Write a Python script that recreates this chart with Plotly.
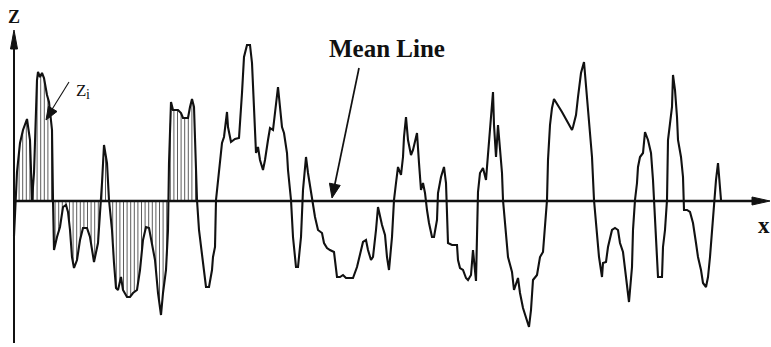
import numpy as np
import plotly.graph_objects as go

# Surface roughness profile: position along the trace and height above the mean line
pos = [14, 15, 17, 20, 23, 27, 30, 32, 34, 37, 38, 40, 42, 44, 47, 49, 52, 53, 54, 57,
       60, 63, 66, 68, 70, 72, 74, 77, 80, 83, 87, 90, 94, 98, 100, 102, 104, 107, 109, 112,
       114, 116, 118, 121, 123, 127, 130, 133, 137, 140, 143, 146, 149, 152, 155, 158, 161, 163, 166, 168,
       169, 171, 173, 178, 181, 183, 188, 190, 192, 194, 196, 197, 199, 202, 204, 206, 209, 212, 213, 215,
       216, 218, 222, 224, 227, 228, 231, 235, 239, 242, 244, 247, 250, 252, 254, 256, 258, 260, 263, 265,
       268, 270, 273, 275, 278, 280, 282, 284, 287, 288, 291, 293, 296, 298, 301, 303, 306, 308, 312, 315,
       318, 322, 324, 327, 330, 334, 337, 340, 343, 346, 350, 353, 357, 360, 363, 366, 368, 371, 373, 376,
       378, 382, 385, 387, 389, 392, 394, 396, 398, 401, 403, 404, 406, 408, 411, 413, 416, 417, 419, 421,
       423, 425, 427, 429, 432, 434, 437, 438, 441, 444, 446, 447, 448, 452, 457, 458, 460, 463, 466, 468,
       471, 473, 474, 476, 478, 480, 483, 486, 487, 489, 492, 493, 494, 496, 498, 500, 502, 503, 506, 508,
       512, 514, 518, 520, 523, 527, 529, 531, 533, 537, 540, 543, 545, 547, 548, 550, 552, 554, 562, 572,
       573, 576, 578, 581, 584, 587, 589, 592, 594, 597, 599, 602, 603, 606, 608, 612, 615, 618, 620, 623,
       625, 627, 629, 632, 633, 635, 637, 638, 640, 643, 645, 648, 651, 653, 654, 656, 658, 662, 663, 665,
       667, 668, 670, 672, 673, 675, 677, 678, 681, 683, 684, 687, 690, 693, 696, 698, 701, 703, 706, 708,
       710, 712, 714, 716, 718, 720, 721]
height = [-35, -14, 29, 58, 71, 82, 61, 1, 28, 121, 129, 124, 128, 123, 106, 99, 71, 1, -49, -36,
          -26, -6, -4, -11, -29, -56, -67, -59, -39, -27, -27, -36, -61, -42, -16, 18, 56, 38, 1, -29,
          -62, -87, -89, -76, -89, -96, -96, -92, -89, -69, -39, -26, -27, -42, -59, -92, -114, -92, -69, -29,
          38, 99, 91, 91, 88, 83, 83, 94, 102, 94, 44, 1, -29, -56, -69, -86, -86, -69, -56, -46,
          1, 21, 58, 64, 89, 74, 59, 62, 63, 108, 144, 156, 156, 138, 91, 48, 54, 41, 31, 41,
          61, 73, 71, 91, 114, 94, 74, 68, 48, 31, 1, -36, -66, -66, -36, 11, 44, 28, 1, -16,
          -29, -32, -42, -47, -49, -51, -76, -76, -74, -77, -77, -77, -66, -52, -41, -39, -49, -59, -56, -29,
          -6, -24, -34, -56, -69, -36, 1, 18, 34, 26, 44, 64, 84, 61, 46, 51, 64, 68, 38, 11,
          18, 8, -9, -22, -36, -36, -19, 8, 24, 34, 18, -16, -42, -44, -44, -59, -67, -69, -77, -79,
          -74, -49, -59, -80, 9, 28, 33, 21, 34, 61, 96, 109, 76, 44, 76, 51, 28, 1, -29, -56,
          -71, -89, -77, -92, -107, -121, -126, -109, -79, -74, -56, -51, -29, 1, 41, 76, 93, 102, 89, 71,
          74, 86, 104, 128, 139, 104, 78, 44, 1, -29, -56, -76, -62, -61, -46, -29, -27, -29, -42, -51,
          -69, -89, -101, -66, -29, 1, 18, 34, 44, 48, 69, 61, 48, 21, 1, -36, -76, -76, -46, -29,
          1, 61, 78, 94, 126, 111, 84, 61, 44, 24, -9, -9, -11, -22, -42, -56, -69, -82, -86, -76,
          -56, -32, 1, 21, 38, 18, 1]

# Extent of the shaded (hatched) stretch and spacing of its ordinates
hatch_start, hatch_end, hatch_step = 15.5, 196.5, 3.6

W, H = 771, 347
X0, Y_TOP, Y_BOT = 0, 201, -146   # one data unit per screen pixel
AXIS_X = 14
SERIF = "Liberation Serif, Times New Roman, serif"
INK = "#111111"

fig = go.Figure()

# vertical ordinates Zi from the mean line to the profile
hx = np.arange(hatch_start, hatch_end, hatch_step)
hz = np.interp(hx, pos, height)
seg_x, seg_y = [], []
for xv, zv in zip(hx, hz):
    seg_x += [xv, xv, None]
    seg_y += [0, zv, None]
fig.add_trace(go.Scatter(x=seg_x, y=seg_y, mode="lines",
                         line=dict(color="#4a4a4a", width=0.9),
                         hoverinfo="skip", showlegend=False))

# the profile itself
fig.add_trace(go.Scatter(x=pos, y=height, mode="lines",
                         line=dict(color=INK, width=2.1),
                         showlegend=False))


def head(tip, tail, length, half):
    """Filled triangular arrow head pointing from tail towards tip."""
    tx, ty = tip
    dx, dy = tip[0] - tail[0], tip[1] - tail[1]
    n = (dx * dx + dy * dy) ** 0.5
    ux, uy = dx / n, dy / n
    bx, by = tx - ux * length, ty - uy * length
    px, py = -uy * half, ux * half
    return (f"M {tx},{ty} L {bx + px},{by + py} L {bx - px},{by - py} Z")


shapes = []
# axes: vertical Z axis and the mean line / x axis
shapes.append(dict(type="line", x0=AXIS_X, x1=AXIS_X, y0=-142, y1=160,
                   line=dict(color=INK, width=2)))
shapes.append(dict(type="line", x0=AXIS_X, x1=756, y0=0, y1=0,
                   line=dict(color=INK, width=2.3)))
shapes.append(dict(type="path", path=head((AXIS_X, 171), (AXIS_X, 0), 19, 3.5),
                   fillcolor=INK, line=dict(color=INK, width=1)))
shapes.append(dict(type="path", path=head((770, 0), (0, 0), 18, 4),
                   fillcolor=INK, line=dict(color=INK, width=1)))

# pointer to the mean line
ml_tail, ml_tip = (359, 133), (332, 3)
shapes.append(dict(type="line", x0=ml_tail[0], y0=ml_tail[1], x1=ml_tip[0] + 2.5, y1=ml_tip[1] + 12,
                   line=dict(color=INK, width=1.7)))
shapes.append(dict(type="path", path=head(ml_tip, ml_tail, 14, 5.5),
                   fillcolor=INK, line=dict(color=INK, width=1)))

# pointer to an ordinate Zi
zi_tail, zi_tip = (69, 119), (46, 81)
shapes.append(dict(type="line", x0=zi_tail[0], y0=zi_tail[1], x1=zi_tip[0] + 5, y1=zi_tip[1] + 9,
                   line=dict(color=INK, width=1.1)))
shapes.append(dict(type="path", path=head(zi_tip, zi_tail, 13, 5),
                   fillcolor=INK, line=dict(color=INK, width=1)))

annotations = [
    dict(x=AXIS_X, y=184, text="<b>Z</b>", showarrow=False,
         font=dict(family=SERIF, size=18, color=INK), xanchor="center", yanchor="middle"),
    dict(x=387, y=153, text="<b>Mean Line</b>", showarrow=False,
         font=dict(family=SERIF, size=25, color=INK), xanchor="center", yanchor="middle"),
    dict(x=764, y=-24, text="<b>x</b>", showarrow=False,
         font=dict(family=SERIF, size=23, color=INK), xanchor="center", yanchor="middle"),
    dict(x=74, y=111, text="Z", showarrow=False,
         font=dict(family=SERIF, size=17, color=INK), xanchor="left", yanchor="middle"),
    dict(x=84, y=107, text="i", showarrow=False,
         font=dict(family=SERIF, size=14, color=INK), xanchor="left", yanchor="middle"),
]

fig.update_layout(
    width=W, height=H,
    margin=dict(l=0, r=0, t=0, b=0),
    paper_bgcolor="white", plot_bgcolor="white",
    xaxis=dict(range=[X0, W], visible=False, fixedrange=True),
    yaxis=dict(range=[Y_BOT, Y_TOP], visible=False, fixedrange=True),
    shapes=shapes, annotations=annotations,
    showlegend=False,
)

fig.write_html("out.html")
